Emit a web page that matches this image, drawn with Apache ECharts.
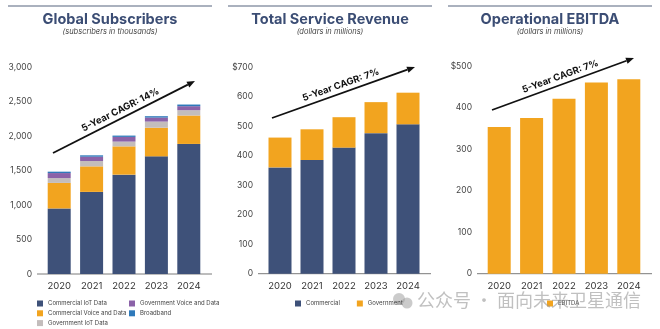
<!DOCTYPE html>
<html><head><meta charset="utf-8">
<script src="https://cdn.jsdelivr.net/npm/echarts@6/dist/echarts.min.js"></script>
<style>html,body{margin:0;padding:0;background:#fff}#c{width:660px;height:329px}</style>
</head><body><div id="c"></div>
<script>
// ---- data ----
const years = ['2020','2021','2022','2023','2024'];
// Global Subscribers (thousands)
const subCommercialIoT   = [950, 1190, 1440, 1705, 1885];
const subCommercialVoice = [370, 370, 410, 415, 412];
const subGovernmentIoT   = [70, 78, 69, 89, 77];
const subGovernmentVoice = [73, 62, 68, 58, 58];
const subBroadband       = [20, 20, 19, 20, 24];
// Total Service Revenue ($M)
const revCommercial = [360, 385, 427, 476, 506];
const revGovernment = [101, 104, 103, 105, 107];
// Operational EBITDA ($M)
const ebitda = [353, 375, 421, 460, 468];
// axis ticks
const subTicks = {max: 3000, interval: 500};
const revTicks = {max: 700, interval: 100};
const ebTicks  = {max: 500, interval: 100};
const titles = ['Global Subscribers','Total Service Revenue','Operational EBITDA'];
const subtitles = ['(subscribers in thousands)','(dollars in millions)','(dollars in millions)'];
const cagr = ['5-Year CAGR: 14%','5-Year CAGR: 7%','5-Year CAGR: 7%'];

// ---- style ----
const C = {navy:'#3e5179', orange:'#f2a41f', gray:'#c3bdbc', purple:'#8b62a8', blue:'#2e79ba'};
const FONT = 'Inter, "Noto Sans", sans-serif';
const grids = [
  {left:43, top:67, width:162, height:207},
  {left:264, top:67, width:160, height:206.7},
  {left:483, top:66, width:162, height:207.7}
];
const panels = [[8,212],[228,432],[448,652]];

const chart = echarts.init(document.getElementById('c'), null, {renderer:'canvas'});

function xAxis(i){
  return {type:'category', gridIndex:i, data:years,
    axisLine:{show:false}, axisTick:{show:false},
    axisLabel:{color:'#333', fontSize:9.5, fontFamily:FONT, margin:7}};
}
function yAxis(i, t, fmt){
  return {type:'value', gridIndex:i, min:0, max:t.max, interval:t.interval,
    splitLine:{show:false}, axisLine:{show:false}, axisTick:{show:false},
    axisLabel:{color:'#444', fontSize:8.5, fontFamily:FONT, margin:11, formatter:fmt}};
}
function bar(name, data, color, xi, stack){
  return {name, type:'bar', xAxisIndex:xi, yAxisIndex:xi, data, stack, barWidth:23,
    itemStyle:{color}, emphasis:{disabled:true}, animation:false};
}

const graphic = [];
// panel top rules, titles, subtitles
panels.forEach((p,i)=>{
  const cx = (p[0]+p[1])/2;
  graphic.push({type:'line', shape:{x1:p[0], y1:6, x2:p[1], y2:6}, style:{stroke:'#56657f', lineWidth:1.2}, silent:true});
  graphic.push({type:'text', x:cx, y:20, style:{text:titles[i], fill:'#3b4d74', font:'bold 14.5px '+FONT, textAlign:'center', textVerticalAlign:'middle'}, silent:true});
  graphic.push({type:'text', x:cx, y:32, style:{text:subtitles[i], fill:'#444', font:'italic 7.5px '+FONT, textAlign:'center', textVerticalAlign:'middle'}, silent:true});
});
// extended base axis lines
grids.forEach((g)=>{
  const y = g.top + g.height;
  graphic.push({type:'line', shape:{x1:g.left-6, y1:y, x2:g.left+g.width+7, y2:y}, style:{stroke:'#7a7a7a', lineWidth:1}, silent:true});
});
// CAGR arrows (annotations)
const arrows = [[53,153,195,81],[272,118,415,67],[492,110,634,58]];
arrows.forEach((a,i)=>{
  const [x1,y1,x2,y2] = a;
  const ang = Math.atan2(y2-y1, x2-x1);
  const L = 8, W = 3.2;
  const bx = x2 - L*Math.cos(ang), by = y2 - L*Math.sin(ang);
  graphic.push({type:'line', shape:{x1, y1, x2:bx, y2:by}, style:{stroke:'#111', lineWidth:1.8}, silent:true});
  graphic.push({type:'polygon', shape:{points:[[x2,y2],[bx - W*Math.sin(ang), by + W*Math.cos(ang)],[bx + W*Math.sin(ang), by - W*Math.cos(ang)]]}, style:{fill:'#111'}, silent:true});
  const off = 8;
  const tx = (x1+x2)/2 + off*Math.sin(ang), ty = (y1+y2)/2 - off*Math.cos(ang);
  graphic.push({type:'text', x:tx, y:ty, rotation:-ang, style:{text:cagr[i], fill:'#111', font:'bold 9.5px '+FONT, textAlign:'center', textVerticalAlign:'middle'}, silent:true});
});
// watermark
graphic.push({type:'circle', shape:{cx:399, cy:299, r:6}, style:{fill:'rgba(160,160,160,0.55)'}, silent:true});
graphic.push({type:'circle', shape:{cx:407, cy:303, r:5.5}, style:{fill:'rgba(160,160,160,0.55)'}, silent:true});
graphic.push({type:'text', x:417, y:300, z:100, style:{text:'公众号 · 面向未来卫星通信', fill:'rgba(150,150,150,0.6)', font:'18px "Noto Sans CJK SC"', textVerticalAlign:'middle'}, silent:true});

const legText = {color:'#444', fontSize:6, lineHeight:8, fontFamily:FONT};
const legCommon = {itemWidth:6, itemHeight:6, icon:'rect', textStyle:legText, selectedMode:false, padding:0};
const option = {
  animation:false,
  grid: grids,
  xAxis: [xAxis(0), xAxis(1), xAxis(2)],
  yAxis: [
    yAxis(0, subTicks, v=>v.toLocaleString('en-US')),
    yAxis(1, revTicks, v=> v===revTicks.max ? '$'+v : String(v)),
    yAxis(2, ebTicks, v=> v===ebTicks.max ? '$'+v : String(v))
  ],
  legend: [
    Object.assign({left:37, top:299.5, orient:'vertical', itemGap:1.8,
     data:['Commercial IoT Data','Commercial Voice and Data','Government IoT Data']}, legCommon),
    Object.assign({left:129, top:299.5, orient:'vertical', itemGap:1.8,
     data:['Government Voice and Data','Broadband']}, legCommon),
    Object.assign({left:295, top:299.5, orient:'horizontal', itemGap:17,
     data:['Commercial','Government']}, legCommon),
    Object.assign({left:547, top:299.5, orient:'horizontal',
     data:['EBITDA']}, legCommon)
  ],
  series: [
    bar('Commercial IoT Data', subCommercialIoT, C.navy, 0, 's'),
    bar('Commercial Voice and Data', subCommercialVoice, C.orange, 0, 's'),
    bar('Government IoT Data', subGovernmentIoT, C.gray, 0, 's'),
    bar('Government Voice and Data', subGovernmentVoice, C.purple, 0, 's'),
    bar('Broadband', subBroadband, C.blue, 0, 's'),
    bar('Commercial', revCommercial, C.navy, 1, 'r'),
    bar('Government', revGovernment, C.orange, 1, 'r'),
    bar('EBITDA', ebitda, C.orange, 2, 'e')
  ],
  graphic
};
chart.setOption(option);
</script></body></html>
